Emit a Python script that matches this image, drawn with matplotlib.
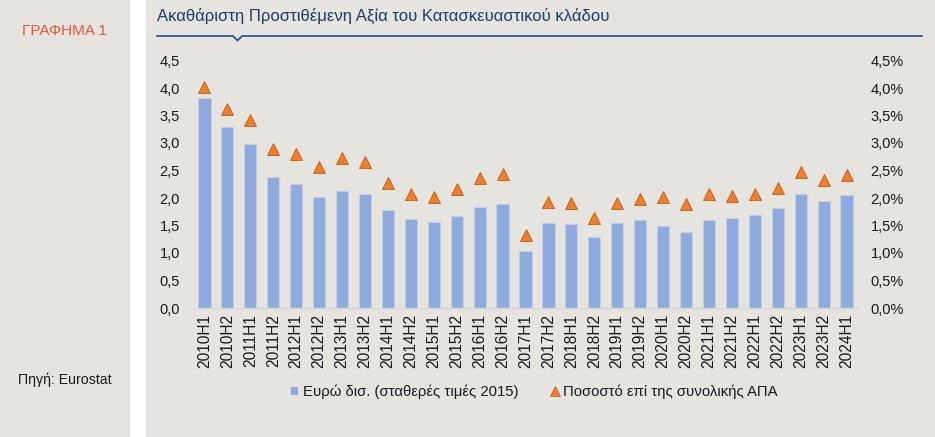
import matplotlib
matplotlib.use("Agg")
import matplotlib.pyplot as plt
from matplotlib.patches import Rectangle
from matplotlib.lines import Line2D
from matplotlib.ticker import FuncFormatter, MultipleLocator

plt.rcParams['font.family'] = ['Liberation Sans', 'DejaVu Sans']

periods = ["2010H1", "2010H2", "2011H1", "2011H2", "2012H1", "2012H2", "2013H1", "2013H2",
           "2014H1", "2014H2", "2015H1", "2015H2", "2016H1", "2016H2", "2017H1", "2017H2",
           "2018H1", "2018H2", "2019H1", "2019H2", "2020H1", "2020H2", "2021H1", "2021H2",
           "2022H1", "2022H2", "2023H1", "2023H2", "2024H1"]
gva_bn_eur = [3.82, 3.30, 2.98, 2.39, 2.25, 2.02, 2.12, 2.07, 1.78, 1.62, 1.57, 1.68, 1.83, 1.89,
              1.04, 1.54, 1.53, 1.30, 1.54, 1.60, 1.49, 1.39, 1.60, 1.64, 1.70, 1.82, 2.07, 1.95, 2.05]
share_pct = [4.01, 3.61, 3.42, 2.89, 2.80, 2.56, 2.73, 2.65, 2.28, 2.08, 2.01, 2.16, 2.36, 2.43,
             1.32, 1.93, 1.91, 1.63, 1.91, 1.98, 2.02, 1.90, 2.07, 2.04, 2.08, 2.19, 2.47, 2.33, 2.42]

title = "Ακαθάριστη Προστιθέμενη Αξία του Κατασκευαστικού κλάδου"
chart_label = "ΓΡΑΦΗΜΑ 1"
source = "Πηγή: Eurostat"
legend_bar = "Ευρώ δισ. (σταθερές τιμές 2015)"
legend_tri = "Ποσοστό επί της συνολικής ΑΠΑ"

W, H = 935, 437
BG = "#E5E4DF"
BAR = "#8FAADC"
ORANGE = "#ED7D31"
NAVY = "#1F3B6E"

fig = plt.figure(figsize=(W / 100, H / 100), dpi=100, facecolor="white")

def fx(x):
    return x / W

def fy(y):
    return 1 - y / H

# background panels
fig.add_artist(Rectangle((0, 0), fx(130), 1, transform=fig.transFigure, facecolor=BG, edgecolor="none", zorder=0))
fig.add_artist(Rectangle((fx(146), 0), 1 - fx(146), 1, transform=fig.transFigure, facecolor=BG, edgecolor="none", zorder=0))

# title and underline with notch
fig.text(fx(157), fy(16), title, color=NAVY, fontsize=12, ha="left", va="center")
fig.add_artist(Line2D([fx(157), fx(233), fx(237.5), fx(242), fx(922)],
                      [fy(36), fy(36), fy(40.5), fy(36), fy(36)],
                      transform=fig.transFigure, color="#2F5597", lw=1.3))

fig.text(fx(22), fy(31), chart_label, color="#E8553E", fontsize=11, ha="left", va="center")
fig.text(fx(18), fy(380), source, color="#1a1a1a", fontsize=10.2, ha="left", va="center")

ax = fig.add_axes([fx(193), fy(308), fx(858) - fx(193), fy(60.5) - fy(308)])
ax.set_facecolor("none")
x = range(len(periods))
ax.bar(x, gva_bn_eur, width=0.53, color=BAR, edgecolor="#C3CFE6", linewidth=0.8, zorder=2)
ax.set_xlim(-0.5, len(periods) - 0.5)
ax.set_ylim(0, 4.5)
ax.yaxis.set_major_locator(MultipleLocator(0.5))
ax.yaxis.set_major_formatter(FuncFormatter(lambda v, p: f"{v:.1f}".replace(".", ",")))
ax.set_xticks(list(x))
ax.set_xticklabels(periods, rotation=90, fontsize=11.2, color="#1a1a1a")
ax.tick_params(axis="x", length=0, pad=4.5)
ax.tick_params(axis="y", length=0, pad=9.5, labelsize=10.5, labelcolor="#1a1a1a")
for s in ["top", "right", "left"]:
    ax.spines[s].set_visible(False)
ax.spines["bottom"].set_color("#D4D4D4")
ax.spines["bottom"].set_linewidth(1.0)

ax2 = ax.twinx()
ax2.set_ylim(0, 4.5)
ax2.plot(list(x), share_pct, linestyle="none", marker="^", markersize=8,
         markerfacecolor=ORANGE, markeredgecolor="#C55A11", markeredgewidth=0.6, zorder=3)
ax2.yaxis.set_major_locator(MultipleLocator(0.5))
ax2.yaxis.set_major_formatter(FuncFormatter(lambda v, p: f"{v:.1f}".replace(".", ",") + "%"))
ax2.tick_params(axis="y", length=0, pad=9, labelsize=10.5, labelcolor="#1a1a1a")
for s in ["top", "right", "left", "bottom"]:
    ax2.spines[s].set_visible(False)

bar_handle = Rectangle((0, 0), 1, 1, facecolor=BAR, edgecolor="none")
tri_handle = Line2D([], [], linestyle="none", marker="^", markersize=7,
                    markerfacecolor=ORANGE, markeredgecolor="#C55A11", markeredgewidth=0.5)
fig.legend([bar_handle, tri_handle], [legend_bar, legend_tri], loc="center",
           bbox_to_anchor=(fx(534), fy(392)), ncol=2, frameon=False, fontsize=10.7,
           handlelength=0.5, handleheight=0.5, handletextpad=0.3, columnspacing=2.2,
           labelcolor="#1a1a1a")

fig.savefig("out.png", dpi=100, facecolor="white")
